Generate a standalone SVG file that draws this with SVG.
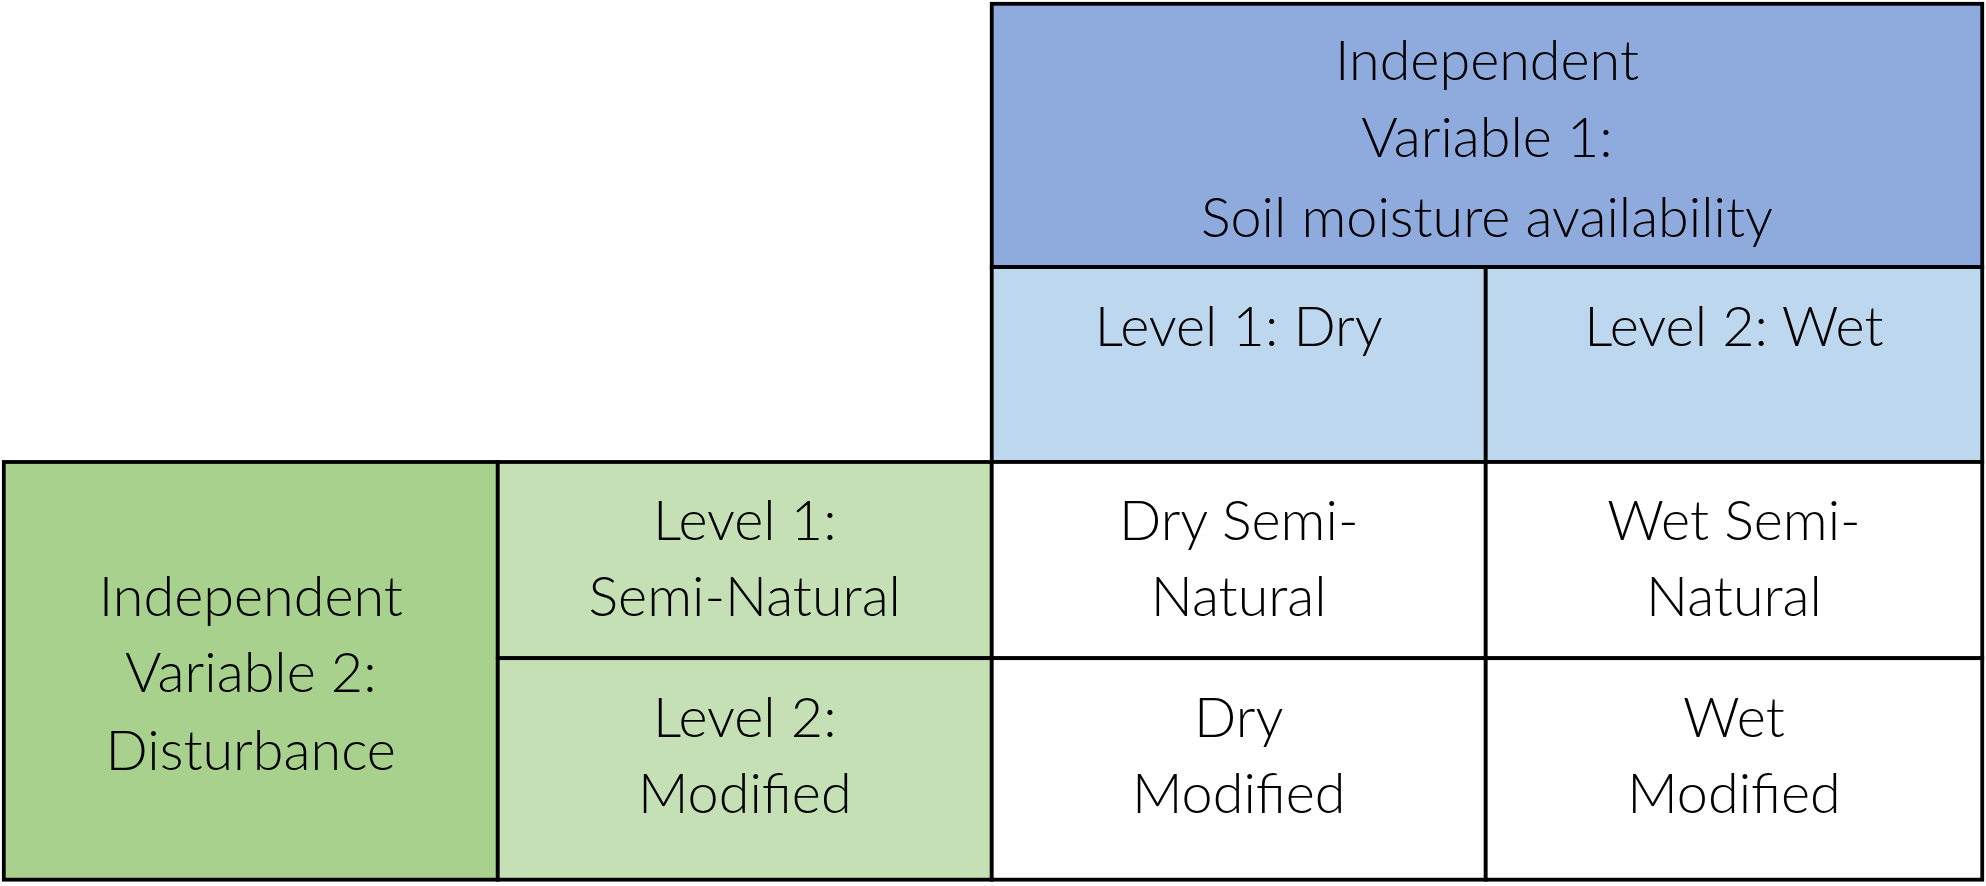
<svg xmlns="http://www.w3.org/2000/svg" width="1986" height="886" viewBox="0 0 1986 886">
<style>
.c{stroke:#000;stroke-width:3}
text{font-family:Lato,"Open Sans",sans-serif;font-weight:300;font-size:44px;fill:#000;text-anchor:middle}
</style>
<rect width="1986" height="886" fill="#fff"/>
<g transform="scale(1.2666,1.2657)">
<g id="iv1"><rect class="c" x="783" y="3" width="782" height="208" fill="#8FAADC"/>
<text x="1174" y="63">Independent</text><text x="1174" y="124">Variable 1:</text><text x="1174" y="187">Soil moisture availability</text></g>
<g id="dry"><rect class="c" x="783" y="211" width="390" height="154" fill="#BDD7EE"/><text x="978" y="273">Level 1: Dry</text></g>
<g id="wet"><rect class="c" x="1173" y="211" width="392" height="154" fill="#BDD7EE"/><text x="1369" y="273">Level 2: Wet</text></g>
<g id="iv2"><rect class="c" x="3" y="365" width="390" height="330" fill="#A9D18E"/>
<text x="198" y="487">Independent</text><text x="198" y="547">Variable 2:</text><text x="198" y="608">Disturbance</text></g>
<g id="semi"><rect class="c" x="393" y="365" width="390" height="155" fill="#C5E0B4"/><text x="588" y="427">Level 1:</text><text x="588" y="487">Semi-Natural</text></g>
<g id="mod"><rect class="c" x="393" y="520" width="390" height="175" fill="#C5E0B4"/><text x="588" y="582">Level 2:</text><text x="588" y="642">Modified</text></g>
<g id="drysemi"><rect class="c" x="783" y="365" width="390" height="155" fill="#fff"/><text x="978" y="427">Dry Semi-</text><text x="978" y="487">Natural</text></g>
<g id="wetsemi"><rect class="c" x="1173" y="365" width="392" height="155" fill="#fff"/><text x="1369" y="427">Wet Semi-</text><text x="1369" y="487">Natural</text></g>
<g id="drymod"><rect class="c" x="783" y="520" width="390" height="175" fill="#fff"/><text x="978" y="582">Dry</text><text x="978" y="642">Modified</text></g>
<g id="wetmod"><rect class="c" x="1173" y="520" width="392" height="175" fill="#fff"/><text x="1369" y="582">Wet</text><text x="1369" y="642">Modified</text></g>
<g id="connectors"/>
</g>
</svg>
